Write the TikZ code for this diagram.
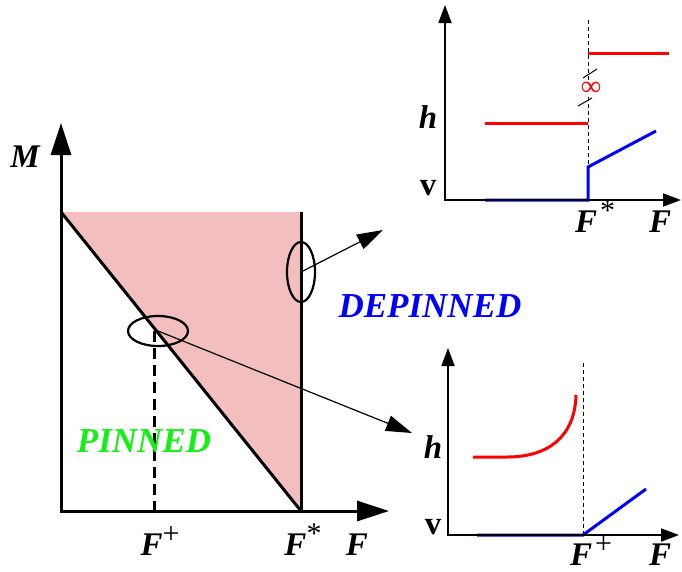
\documentclass[tikz,border=0pt]{standalone}
\usepackage{fontspec}
\setmainfont{Liberation Serif}
\usepackage{tikz}
\usetikzlibrary{arrows.meta,shapes.geometric}

\definecolor{regionpink}{RGB}{242,190,190}
\definecolor{pinngreen}{RGB}{20,240,20}
\newcommand{\supmark}[1]{\raisebox{0.34em}{\fontsize{30}{30}\selectfont\mdseries\upshape #1}}

\begin{document}
\begin{tikzpicture}[
  x=1pt, y=-1pt,
  % Line styles
  axis/.style={line width=3pt, -{Triangle[length=32pt,width=20pt]}},
  smallaxis/.style={line width=1.8pt, -{Triangle[length=18pt,width=13pt]}},
  pointer/.style={line width=1.2pt, -{Triangle[length=26pt,width=16pt]}},
  boundary/.style={line width=3pt},
  guide/.style={line width=1pt, dash pattern=on 4pt off 3pt},
  hcurve/.style={line width=3pt, color=red},
  vcurve/.style={line width=3pt, color=blue},
  % Node styles
  lbl/.style={font=\fontsize{33}{36}\selectfont\bfseries\itshape, anchor=base, inner sep=0pt},
  region/.style={font=\fontsize{35}{38}\selectfont\bfseries\itshape, anchor=base, inner sep=0pt},
  loop/.style={ellipse, draw, line width=2.2pt, inner sep=0pt}
]
  \useasboundingbox (0,0) rectangle (682,571);

  % ============================================
  % MAIN DIAGRAM: M versus F
  % ============================================
  \fill[regionpink] (61,212) -- (301,212) -- (301,511) -- cycle;
  \draw[boundary] (61,212) -- (301,511);
  \draw[boundary] (301,212) -- (301,511);
  \draw[line width=3pt, dash pattern=on 11pt off 6pt] (154,331) -- (154,511);
  \draw[axis] (61,511) -- (61,123);
  \draw[axis] (59.5,511) -- (389,511);

  \node[lbl] (mlabel) at (25,167) {M};
  \node[lbl] (fplus) at (160,555) {F\supmark{+}};
  \node[lbl] (fstar) at (303,555) {F\supmark{*}};
  \node[lbl] (faxis) at (357,555) {F};
  \node[region, text=pinngreen] (pinned) at (144,452) {PINNED};
  \node[region, text=blue] (depinned) at (430,317) {DEPINNED};

  % Loops marking the two transitions
  \node[loop, minimum width=60pt, minimum height=30pt] (loopplus) at (158,331) {};
  \node[loop, minimum width=28pt, minimum height=60pt] (loopstar) at (301,272) {};
  \coordinate (tipstar) at (383,230);
  \coordinate (tipplus) at (412,433);
  \draw[pointer] (loopstar.center) -- (tipstar);
  \draw[pointer] (loopplus.center) -- (tipplus);

  % ============================================
  % TOP INSET: behaviour at F*
  % ============================================
  \draw[guide] (588,20) -- (588,200);
  \draw[hcurve] (485,123) -- (588,123);
  \draw[hcurve] (588,53) -- (669,53);
  \draw[line width=1pt] (583,78) -- (597,69);
  \draw[line width=1pt] (578,106) -- (592,98);
  \node[text=red, fill=white, font=\fontsize{28}{30}\selectfont\bfseries, inner sep=0pt] (infty) at (591,89) {∞};
  \draw[vcurve] (485,200) -- (588,200) -- (588,167) -- (656,131);
  \draw[smallaxis] (445,200) -- (445,5);
  \draw[smallaxis] (444,200) -- (681,200);

  \node[lbl] (hstar) at (428,128) {h};
  \node[lbl, font=\fontsize{33}{36}\selectfont\bfseries] (vstar) at (428,195) {v};
  \node[lbl] (fstartop) at (595,232) {F\kern3pt\supmark{*}};
  \node[lbl] (ftop) at (660,232) {F};

  % ============================================
  % BOTTOM INSET: behaviour at F+
  % ============================================
  \draw[guide] (583,363) -- (583,535);
  \draw[hcurve] (473,457) -- (507,457) .. controls (550,457) and (575,435) .. (576,395);
  \draw[vcurve] (477,535) -- (583,535) -- (646,489);
  \draw[smallaxis] (448,535) -- (448,348);
  \draw[smallaxis] (447,535) -- (679,535);

  \node[lbl] (hplus) at (433,458) {h};
  \node[lbl, font=\fontsize{33}{36}\selectfont\bfseries] (vplus) at (433,534) {v};
  \node[lbl] (fplusbot) at (591,565) {F\kern3pt\supmark{+}};
  \node[lbl] (fbot) at (660,565) {F};

\end{tikzpicture}
\end{document}
